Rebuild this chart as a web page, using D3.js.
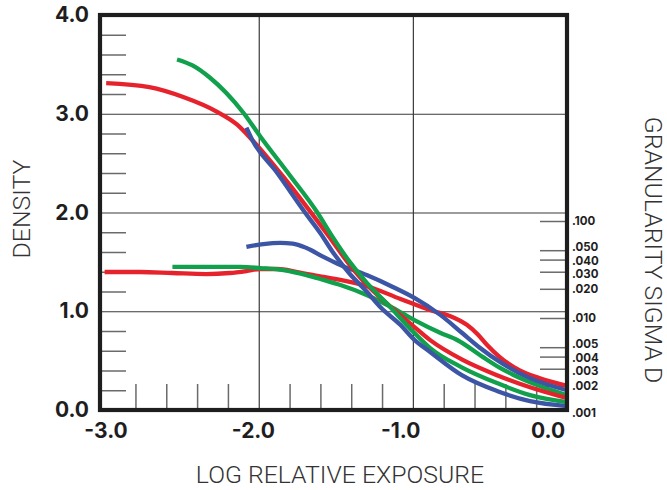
<!DOCTYPE html>
<html><head><meta charset="utf-8">
<script src="https://cdn.jsdelivr.net/npm/d3@7/dist/d3.min.js"></script>
<style>
body{margin:0;background:#fff;}
svg{display:block;}
</style></head><body>
<svg id="chart" width="667" height="490"></svg>
<script>
// ---------- data ----------
const densityTicks = [0, 1, 2, 3, 4];
const densityTickLabels = ["0.0", "1.0", "2.0", "3.0", "4.0"];
const exposureTicks = [-3, -2, -1, 0];
const exposureTickLabels = ["-3.0", "-2.0", "-1.0", "0.0"];
const sigmaTicks = [0.1, 0.05, 0.04, 0.03, 0.02, 0.01, 0.005, 0.004, 0.003, 0.002, 0.001];
const sigmaTickLabels = [".100", ".050", ".040", ".030", ".020", ".010", ".005", ".004", ".003", ".002", ".001"];

// characteristic curves (density vs log exposure)
const redCharLogE   = [-2.99, -2.71, -2.49, -2.27, -2.14, -2.04, -1.84, -1.71, -1.56, -1.41, -1.30, -1.17, -0.99, -0.89, -0.68, -0.45, -0.24, 0.0];
const redCharD      = [3.31, 3.27, 3.17, 3.02, 2.89, 2.73, 2.36, 2.10, 1.79, 1.47, 1.27, 1.08, 0.84, 0.71, 0.51, 0.35, 0.23, 0.12];
const greenCharLogE = [-2.53, -2.43, -2.32, -2.21, -2.10, -1.99, -1.80, -1.62, -1.52, -1.41, -1.30, -1.17, -0.99, -0.89, -0.68, -0.45, -0.24, 0.0];
const greenCharD    = [3.55, 3.49, 3.37, 3.21, 3.01, 2.77, 2.38, 2.00, 1.75, 1.50, 1.29, 1.08, 0.78, 0.63, 0.43, 0.27, 0.15, 0.08];
const blueCharLogE  = [-2.08, -2.04, -1.88, -1.70, -1.60, -1.52, -1.41, -1.30, -1.21, -1.08, -0.99, -0.89, -0.68, -0.45, -0.24, 0.0];
const blueCharD     = [2.86, 2.73, 2.40, 2.00, 1.79, 1.60, 1.38, 1.20, 1.04, 0.86, 0.71, 0.59, 0.35, 0.19, 0.09, 0.04];

// granularity curves (sigma D vs log exposure)
const redGranLogE   = [-3.00, -2.77, -2.56, -2.34, -2.19, -2.08, -1.99, -1.88, -1.75, -1.58, -1.47, -1.30, -1.08, -0.87, -0.76, -0.65, -0.58, -0.52, -0.44, -0.31, -0.18, 0.0];
const redGranSigma  = [0.0298, 0.0298, 0.0291, 0.0284, 0.0291, 0.0305, 0.0320, 0.0320, 0.0298, 0.0265, 0.0247, 0.0214, 0.0157, 0.0118, 0.0105, 0.0085, 0.0068, 0.0053, 0.0040, 0.0029, 0.0024, 0.0020];
const greenGranLogE = [-2.56, -2.34, -2.12, -1.99, -1.84, -1.69, -1.58, -1.47, -1.30, -1.13, -0.99, -0.82, -0.71, -0.55, -0.44, -0.35, -0.18, 0.0];
const greenGranSigma= [0.0336, 0.0336, 0.0336, 0.0327, 0.0312, 0.0277, 0.0247, 0.0219, 0.0173, 0.0127, 0.0095, 0.0070, 0.0059, 0.0040, 0.0031, 0.0026, 0.0020, 0.0016];
const blueGranLogE  = [-2.08, -1.97, -1.86, -1.78, -1.69, -1.58, -1.47, -1.30, -1.13, -0.99, -0.82, -0.68, -0.57, -0.42, -0.24, 0.0];
const blueGranSigma = [0.0540, 0.0579, 0.0596, 0.0586, 0.0527, 0.0426, 0.0351, 0.0277, 0.0209, 0.0161, 0.0107, 0.0070, 0.0050, 0.0034, 0.0024, 0.0018];

const RED = "#e6232c", GREEN = "#11a04b", BLUE = "#3c55a4";

// ---------- layout ----------
const svg = d3.select("#chart");
const L = 100, R = 567, T = 15, B = 410;
const x = d3.scaleLinear().domain([-3.03, 0]).range([L, R]);
const xLab = d3.scaleLinear().domain([-3, 0]).range([105.5, 547.5]);
const y = d3.scaleLinear().domain([0, 4]).range([B, T]);
const ySig = d3.scaleLog().domain([0.001, 0.1]).range([415, 221]);

const numFont = "Inter, 'Noto Sans', sans-serif";
const titleFont = "Roboto, 'Noto Sans', sans-serif";

// gridlines
svg.append("g").attr("transform", `translate(${L},0)`)
  .call(d3.axisRight(y).tickValues([1, 2, 3]).tickSize(R - L).tickFormat(""))
  .call(g => g.select(".domain").remove())
  .call(g => g.selectAll("line").attr("stroke", "#3a3a3a").attr("stroke-width", 1.2));
svg.append("g").attr("transform", `translate(0,${B})`)
  .call(d3.axisTop(x).tickValues([-2, -1]).tickSize(B - T).tickFormat(""))
  .call(g => g.select(".domain").remove())
  .call(g => g.selectAll("line").attr("stroke", "#3a3a3a").attr("stroke-width", 1.2));

// minor ticks
const leftMinor = d3.range(1, 20).filter(i => i % 5 !== 0).map(i => i * 0.2);
const bottomMinor = d3.range(1, 15).filter(i => i % 5 !== 0).map(i => -3 + i * 0.2);
svg.append("g").attr("transform", `translate(${L},0)`)
  .call(d3.axisRight(y).tickValues(leftMinor).tickSize(26).tickFormat(""))
  .call(g => g.select(".domain").remove())
  .call(g => g.selectAll("line").attr("stroke", "#6a6a6a").attr("stroke-width", 1.5));
svg.append("g").attr("transform", `translate(0,${B})`)
  .call(d3.axisTop(x).tickValues(bottomMinor).tickSize(26).tickFormat(""))
  .call(g => g.select(".domain").remove())
  .call(g => g.selectAll("line").attr("stroke", "#6a6a6a").attr("stroke-width", 1.5));
svg.append("g").attr("transform", `translate(${R},0)`)
  .call(d3.axisLeft(ySig).tickValues(sigmaTicks.slice(0, 10)).tickSize(27).tickFormat(""))
  .call(g => g.select(".domain").remove())
  .call(g => g.selectAll("line").attr("stroke", "#6a6a6a").attr("stroke-width", 1.5));

// curves
const lineD = d3.line().x(d => x(d[0])).y(d => y(d[1])).curve(d3.curveMonotoneX);
const lineS = d3.line().x(d => x(d[0])).y(d => ySig(d[1])).curve(d3.curveMonotoneX);
const zip = (a, b) => a.map((v, i) => [v, b[i]]);
const curves = [
  {pts: zip(redGranLogE, redGranSigma), c: RED, gen: lineS},
  {pts: zip(greenGranLogE, greenGranSigma), c: GREEN, gen: lineS},
  {pts: zip(blueGranLogE, blueGranSigma), c: BLUE, gen: lineS},
  {pts: zip(redCharLogE, redCharD), c: RED, gen: lineD},
  {pts: zip(greenCharLogE, greenCharD), c: GREEN, gen: lineD},
  {pts: zip(blueCharLogE, blueCharD), c: BLUE, gen: lineD},
];
svg.append("g").selectAll("path").data(curves).join("path")
  .attr("d", d => d.gen(d.pts))
  .attr("fill", "none").attr("stroke", d => d.c)
  .attr("stroke-width", 4.3).attr("stroke-linejoin", "round");

// frame
svg.append("rect").attr("x", L).attr("y", T).attr("width", R - L).attr("height", B - T)
  .attr("fill", "none").attr("stroke", "#1e1e1e").attr("stroke-width", 4.2);

// tick labels
svg.append("g").attr("transform", `translate(${L},0)`)
  .call(d3.axisLeft(y).tickValues(densityTicks).tickFormat((d, i) => densityTickLabels[i]).tickSize(0).tickPadding(11))
  .call(g => g.select(".domain").remove())
  .call(g => g.selectAll("text").attr("font-family", numFont).attr("font-weight", 700)
    .attr("font-size", 21).attr("fill", "#1e1e1e"));
svg.append("g").attr("transform", `translate(0,${B})`)
  .call(d3.axisBottom(xLab).tickValues(exposureTicks).tickFormat((d, i) => exposureTickLabels[i]).tickSize(0).tickPadding(13))
  .call(g => g.select(".domain").remove())
  .call(g => g.selectAll("text").attr("font-family", numFont).attr("font-weight", 700)
    .attr("font-size", 21).attr("fill", "#1e1e1e"));

// granularity labels: scale positions, relaxed so tightly packed labels don't collide
const sigPos = sigmaTicks.map(v => ySig(v));
const minGap = 13.4;
for (let k = 0; k < 100; k++) {
  for (let i = 1; i < sigPos.length; i++) {
    const gap = sigPos[i] - sigPos[i - 1];
    if (gap < minGap) { const d = (minGap - gap) / 2; sigPos[i - 1] -= d; sigPos[i] += d; }
  }
}
svg.append("g").selectAll("text").data(sigmaTickLabels).join("text")
  .attr("x", R + 5).attr("y", (d, i) => Math.min(sigPos[i], 413)).attr("dy", "0.36em")
  .attr("font-family", numFont).attr("font-weight", 700).attr("font-size", 11.5)
  .attr("fill", "#1e1e1e").text(d => d);

// axis titles
svg.append("text").attr("transform", "translate(30,209) rotate(-90)")
  .attr("text-anchor", "middle").attr("font-family", titleFont).attr("font-weight", 300)
  .attr("font-size", 24.8).attr("fill", "#333").text("DENSITY");
svg.append("text").attr("x", 340).attr("y", 483)
  .attr("text-anchor", "middle").attr("font-family", titleFont).attr("font-weight", 300)
  .attr("font-size", 24.8).attr("fill", "#333").text("LOG RELATIVE EXPOSURE");
svg.append("text").attr("transform", "translate(645,250) rotate(90)")
  .attr("text-anchor", "middle").attr("font-family", titleFont).attr("font-weight", 300)
  .attr("font-size", 24.8).attr("fill", "#333").text("GRANULARITY SIGMA D");
</script>
</body></html>
